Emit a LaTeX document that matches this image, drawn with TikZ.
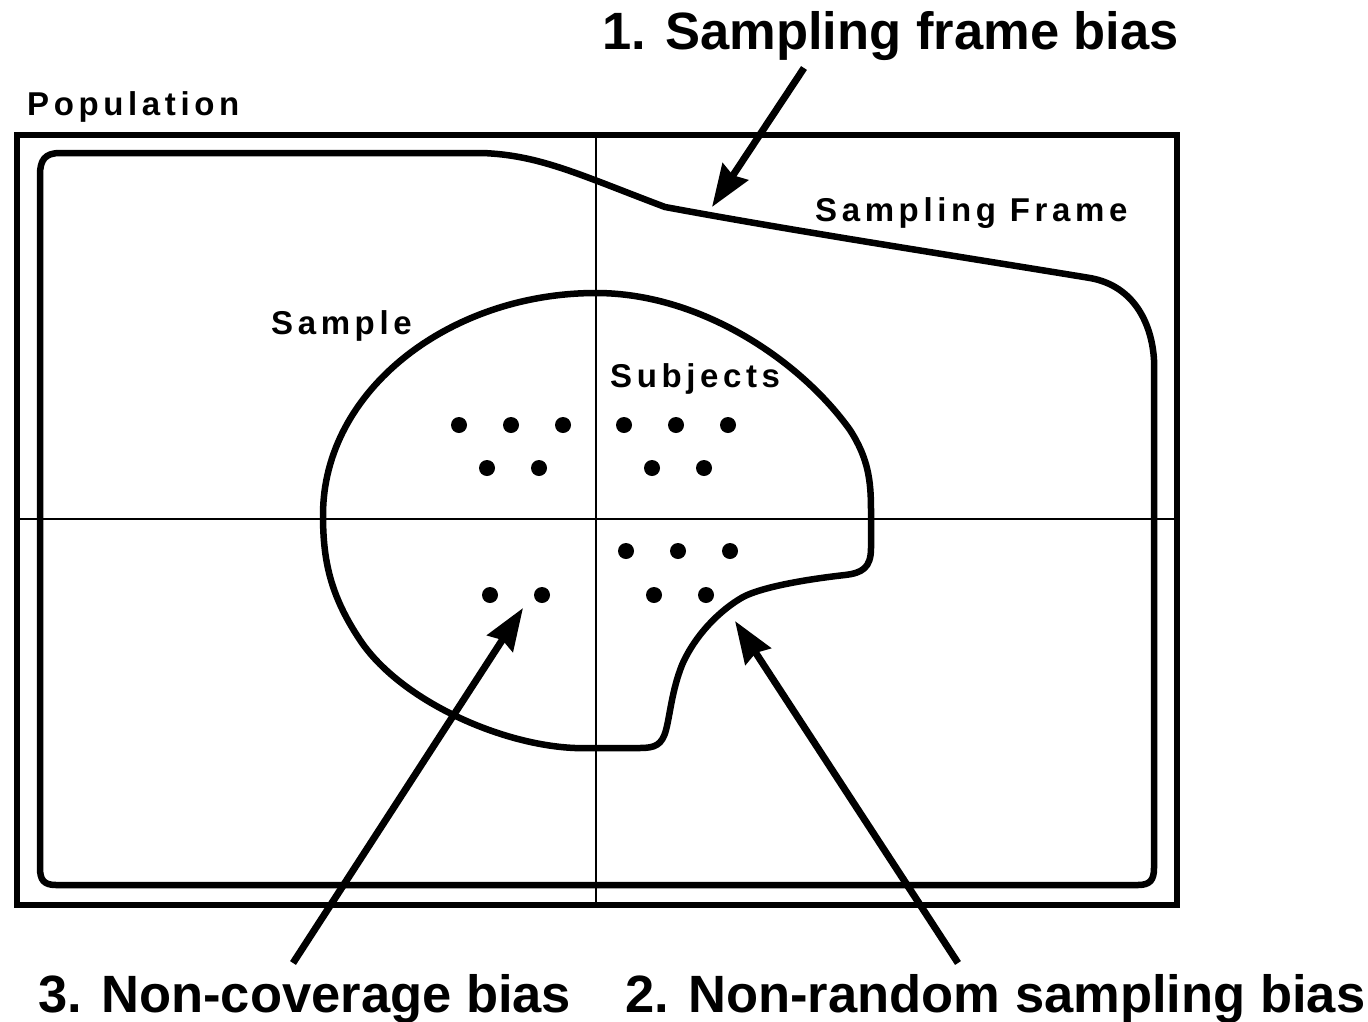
\documentclass[tikz,border=0pt]{standalone}
\usepackage{fontspec}
\setmainfont{Liberation Sans}
\newfontfamily\spacedfont[LetterSpace=14]{Liberation Sans}
\usetikzlibrary{arrows.meta}
\begin{document}
\begin{tikzpicture}[x=1pt,y=-1pt,
  biglabel/.style={font=\fontsize{52.5}{60}\selectfont\bfseries, inner sep=0pt, anchor=base west},
  smalllabel/.style={font=\spacedfont\fontsize{33}{38}\selectfont\bfseries, inner sep=0pt, anchor=base west},
  thickline/.style={line width=6.5pt, line join=round, line cap=round},
  thinline/.style={line width=1.5pt},
  biasarrow/.style={line width=7pt, -{Stealth[length=42pt,width=30pt,inset=4pt]}},
  dot/.style={fill=black}]
\useasboundingbox (0,0) rectangle (1368,1021);
% population box
\draw[line width=6pt] (17,135) rectangle (1177,905);
% cross lines
\draw[thinline] (596,135) -- (596,905);
\draw[thinline] (17,519) -- (1177,519);
% sampling frame
\draw[thickline] (60,153) -- (482,153)
  .. controls (540,155) and (580,175) .. (665,207)
  .. controls (800,232) and (950,255) .. (1090,278)
  .. controls (1135,286) and (1152,325) .. (1154,360)
  -- (1154,868)
  .. controls (1154,880) and (1150,885) .. (1138,885)
  -- (56,885)
  .. controls (44,885) and (40,880) .. (40,868)
  -- (40,175)
  .. controls (40,160) and (45,153) .. (60,153) -- cycle;
% sample
\draw[thickline] (596,293)
  .. controls (700,293) and (800,360) .. (850,430)
  .. controls (868,458) and (871,480) .. (871,510)
  -- (871,548)
  .. controls (871,568) and (862,573) .. (845,575)
  .. controls (800,580) and (760,588) .. (743,597)
  .. controls (720,610) and (695,635) .. (682,665)
  .. controls (672,690) and (670,715) .. (666,730)
  .. controls (662,745) and (655,748) .. (640,748)
  -- (575,748)
  .. controls (500,745) and (400,700) .. (360,640)
  .. controls (330,595) and (323,560) .. (323,515)
  .. controls (323,390) and (450,293) .. (596,293) -- cycle;
% subjects
\foreach \x/\y in {459/425,511/425,563/425,487/468,539/468,
                   624/425,676/425,728/425,652/468,704/468,
                   626/551,678/551,730/551,654/595,706/595,
                   490/595,542/595}
  \fill[dot] (\x,\y) circle[radius=8pt];
% labels
\node[smalllabel] (population) at (27,115) {Population};
\node[smalllabel] (frame) at (815,221) {Sampling Frame};
\node[smalllabel] (sample) at (271,334) {Sample};
\node[smalllabel] (subjects) at (610,387) {Subjects};
\node[biglabel] (bias1) at (602,49) {1. Sampling frame bias};
\node[biglabel] (bias3) at (38,1012) {3. Non-coverage bias};
\node[biglabel] (bias2) at (625,1012) {2. Non-random sampling bias};
% arrows
\coordinate (tail1) at (804,68);
\coordinate (tip1) at (712,207);
\coordinate (tail2) at (958,963);
\coordinate (tip2) at (735,621);
\coordinate (tail3) at (293,963);
\coordinate (tip3) at (523,608);
\draw[biasarrow] (tail1) -- (tip1);
\draw[biasarrow] (tail2) -- (tip2);
\draw[biasarrow] (tail3) -- (tip3);
\end{tikzpicture}
\end{document}
